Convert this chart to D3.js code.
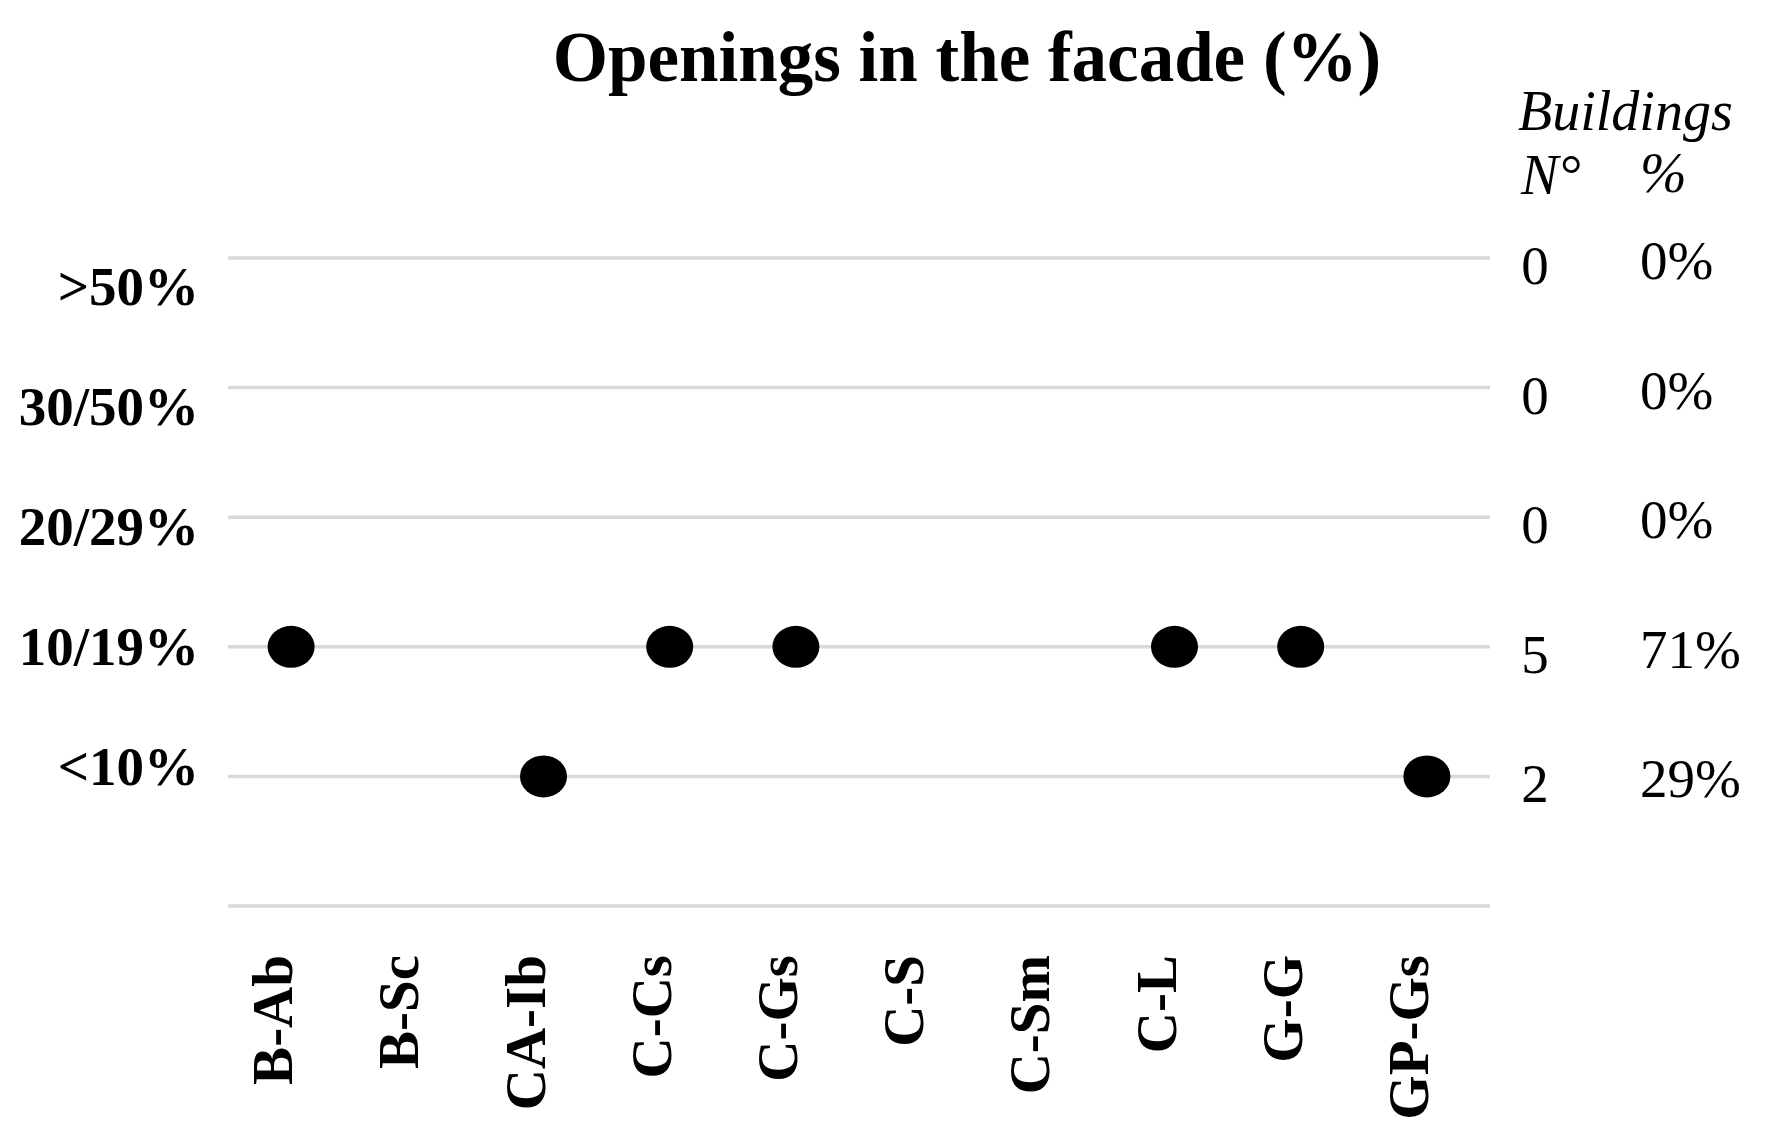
<!DOCTYPE html>
<html>
<head>
<meta charset="utf-8">
<script src="https://cdn.jsdelivr.net/npm/d3@7"></script>
<style>
body{margin:0;background:#fff;}
text{font-family:"Liberation Serif","DejaVu Serif",serif;fill:#000;}
.title{font-weight:bold;font-size:71px;}
.ylab{font-weight:bold;font-size:55px;}
.xlab{font-weight:bold;font-size:57px;}
.side{font-size:55px;}
.head{font-style:italic;font-size:56px;}
</style>
</head>
<body>
<svg id="chart"></svg>
<script>
// categories on the x axis
var buildings = ["B-Ab","B-Sc","CA-Ib","C-Cs","C-Gs","C-S","C-Sm","C-L","G-G","GP-Gs"];
// classes on the y axis (top to bottom)
var classes = [">50%","30/50%","20/29%","10/19%","<10%"];
// class of each building (null = no point)
var openings = ["10/19%",null,"<10%","10/19%","10/19%",null,null,"10/19%","10/19%","<10%"];
// counts and shares on the right
var counts = [0,0,0,5,2];
var shares = ["0%","0%","0%","71%","29%"];

var screen = {width:1767, height:1144};
var margins = {top:258, left:228, right:277, bottom:238};
var graph = {
    width:screen.width-margins.left-margins.right,
    height:screen.height-margins.top-margins.bottom
};

var svg = d3.select("#chart")
    .attr("width",screen.width)
    .attr("height",screen.height);

var xScale = d3.scaleBand()
    .domain(buildings)
    .range([margins.left,margins.left+graph.width]);

// one extra empty level at the bottom
var yScale = d3.scaleLinear()
    .domain([0,classes.length])
    .range([margins.top,margins.top+graph.height]);

// labels on the left are spaced a little tighter than the lines
var labelScale = d3.scaleLinear()
    .domain([0,classes.length-1])
    .range([305,785]);

// gridlines
svg.append("g")
    .selectAll("line")
    .data(d3.range(classes.length+1))
    .enter()
    .append("line")
    .attr("x1",margins.left)
    .attr("x2",margins.left+graph.width)
    .attr("y1",function(d){return yScale(d);})
    .attr("y2",function(d){return yScale(d);})
    .attr("stroke","#d9d9d9")
    .attr("stroke-width",3.5);

// title
svg.append("text")
    .classed("title",true)
    .attr("text-anchor","middle")
    .attr("x",967)
    .attr("y",81)
    .text("Openings in the facade (%)");

// y labels
svg.append("g")
    .selectAll("text")
    .data(classes)
    .enter()
    .append("text")
    .classed("ylab",true)
    .attr("text-anchor","end")
    .attr("x",199)
    .attr("y",function(d,i){return labelScale(i);})
    .text(function(d){return d;});

// x labels, rotated
svg.append("g")
    .selectAll("text")
    .data(buildings)
    .enter()
    .append("text")
    .classed("xlab",true)
    .attr("text-anchor","end")
    .attr("dy","0.02em")
    .attr("transform",function(d){
        return "translate("+(xScale(d)+xScale.bandwidth()/2)+",955) rotate(-90)";
    })
    .text(function(d){return d;});

// points
var pts = buildings.map(function(b,i){return {b:b,c:openings[i]};})
    .filter(function(p){return p.c!==null;});

svg.append("g")
    .selectAll("ellipse")
    .data(pts)
    .enter()
    .append("ellipse")
    .attr("cx",function(p){return xScale(p.b)+xScale.bandwidth()/2;})
    .attr("cy",function(p){return yScale(classes.indexOf(p.c));})
    .attr("rx",23.5)
    .attr("ry",21)
    .attr("fill","#000");

// right side header
svg.append("text").classed("head",true)
    .attr("x",1518).attr("y",130).text("Buildings");
svg.append("text").classed("head",true)
    .attr("x",1521).attr("y",194).text("N°");
svg.append("text").classed("head",true)
    .attr("x",1640).attr("y",192).text("%");

// counts
svg.append("g")
    .selectAll("text")
    .data(counts)
    .enter()
    .append("text")
    .classed("side",true)
    .attr("text-anchor","middle")
    .attr("x",1535)
    .attr("y",function(d,i){return yScale(i)+26;})
    .text(function(d){return d;});

// shares
svg.append("g")
    .selectAll("text")
    .data(shares)
    .enter()
    .append("text")
    .classed("side",true)
    .attr("x",1640)
    .attr("y",function(d,i){return yScale(i)+21;})
    .text(function(d){return d;});
</script>
</body>
</html>
